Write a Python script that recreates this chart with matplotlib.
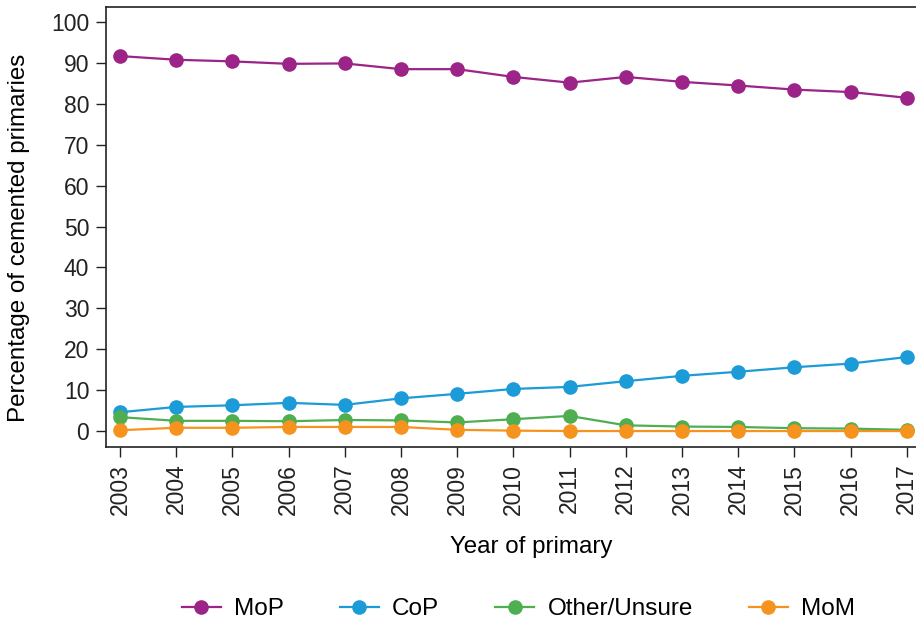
import numpy as np
import matplotlib.pyplot as plt

plt.rcParams['font.family'] = ['Liberation Sans', 'DejaVu Sans']

# Años de la cirugía primaria
anios = np.arange(2003, 2018)

# Porcentaje de primarias cementadas por tipo de par de fricción
mop = [91.7, 90.8, 90.4, 89.8, 89.9, 88.5, 88.5, 86.6, 85.2, 86.6, 85.4, 84.5, 83.5, 82.9, 81.5]
cop = [4.6, 5.9, 6.3, 6.9, 6.4, 8.0, 9.1, 10.3, 10.8, 12.2, 13.5, 14.5, 15.6, 16.5, 18.1]
otro = [3.4, 2.5, 2.5, 2.4, 2.7, 2.6, 2.1, 2.9, 3.7, 1.4, 1.1, 1.0, 0.7, 0.6, 0.3]
mom = [0.2, 0.8, 0.8, 1.0, 1.0, 1.0, 0.3, 0.1, 0.0, 0.0, 0.0, 0.0, 0.0, 0.0, 0.0]

series = [
    ("MoP", mop, "#9c2387"),
    ("CoP", cop, "#1b9bd7"),
    ("Other/Unsure", otro, "#4fae50"),
    ("MoM", mom, "#f6921e"),
]

fig = plt.figure(figsize=(9.16, 6.24), dpi=100)
ax = fig.add_axes([106 / 916, 1 - 447 / 624, 812 / 916, 440 / 624])

for nombre, valores, color in series:
    ax.plot(anios, valores, color=color, marker='o', markersize=9.5,
            linewidth=1.6, label=nombre)

ax.set_xlim(2002.75, 2017.2)
ax.set_ylim(-3.9, 103.7)
ax.set_yticks(np.arange(0, 101, 10))
ax.set_xticks(anios)
ax.set_xticklabels([str(a) for a in anios], rotation=90)
ax.tick_params(direction='out', length=7, width=1, labelsize=16.5, colors='#222222', pad=5)

for spine in ax.spines.values():
    spine.set_linewidth(1.2)
    spine.set_color('#222222')

ax.set_ylabel("Percentage of cemented primaries", fontsize=17.4)
ax.yaxis.set_label_coords(-0.094, 0.475)
ax.set_xlabel("Year of primary", fontsize=17.4)
ax.xaxis.set_label_coords(0.524, -0.203)

fig.legend(loc='center', bbox_to_anchor=(0.566, 1 - 609 / 624), ncol=4,
           frameon=False, fontsize=17.5, handlelength=1.6, columnspacing=2.3,
           handletextpad=0.55)

fig.savefig("out.png", dpi=100)
